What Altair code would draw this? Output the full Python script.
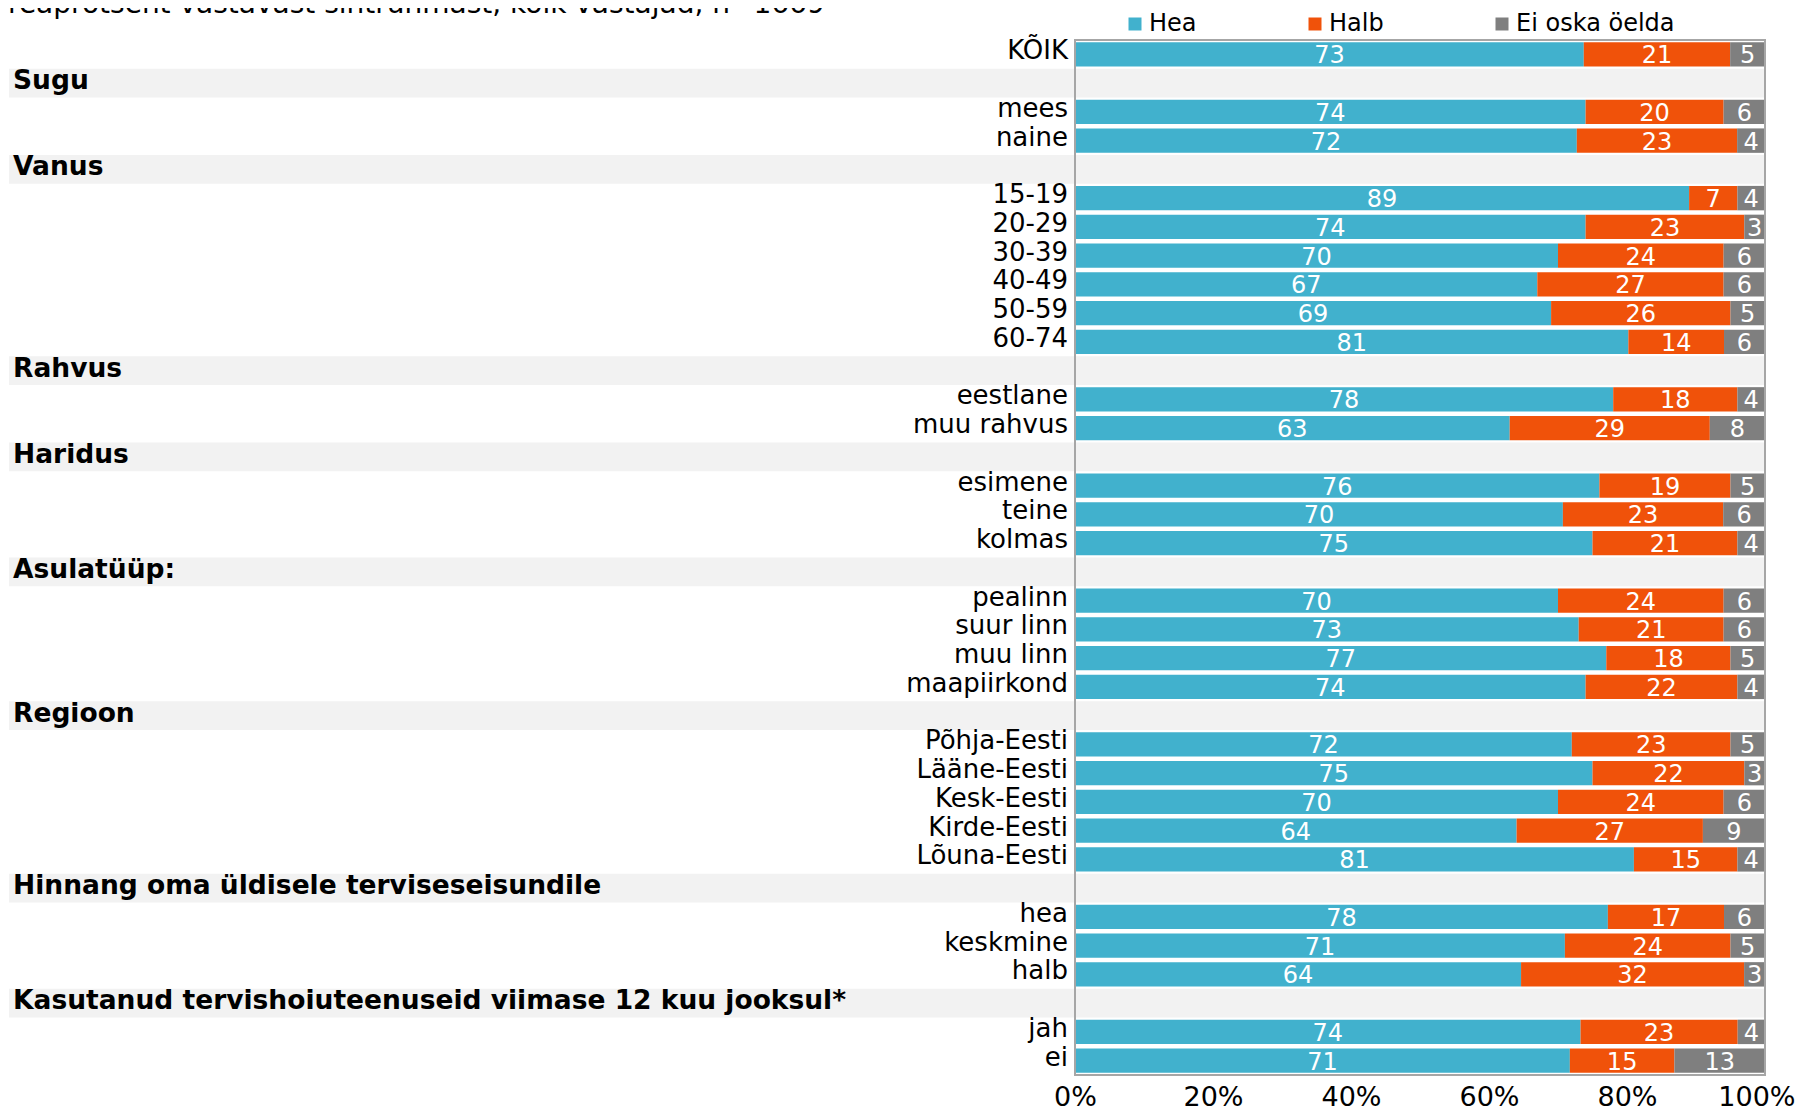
import altair as alt
import pandas as pd

title_text = "reaprotsent vastavast sihtrühmast, kõik vastajad, n=1669"
series = ["Hea", "Halb", "Ei oska öelda"]
colors = ["#41b1cd", "#f0520a", "#7f7f7f"]

row_order = [
    "KÕIK", "Sugu", "mees", "naine", "Vanus", "15-19", "20-29", "30-39", "40-49",
    "50-59", "60-74", "Rahvus", "eestlane", "muu rahvus", "Haridus", "esimene",
    "teine", "kolmas", "Asulatüüp:", "pealinn", "suur linn", "muu linn",
    "maapiirkond", "Regioon", "Põhja-Eesti", "Lääne-Eesti", "Kesk-Eesti",
    "Kirde-Eesti", "Lõuna-Eesti", "Hinnang oma üldisele terviseseisundile",
    "hea", "keskmine", "halb",
    "Kasutanud tervishoiuteenuseid viimase 12 kuu jooksul*", "jah", "ei",
]
headers = [
    "Sugu", "Vanus", "Rahvus", "Haridus", "Asulatüüp:", "Regioon",
    "Hinnang oma üldisele terviseseisundile",
    "Kasutanud tervishoiuteenuseid viimase 12 kuu jooksul*",
]
categories = [
    "KÕIK", "mees", "naine", "15-19", "20-29", "30-39", "40-49", "50-59", "60-74",
    "eestlane", "muu rahvus", "esimene", "teine", "kolmas", "pealinn", "suur linn",
    "muu linn", "maapiirkond", "Põhja-Eesti", "Lääne-Eesti", "Kesk-Eesti",
    "Kirde-Eesti", "Lõuna-Eesti", "hea", "keskmine", "halb", "jah", "ei",
]
hea = [73, 74, 72, 89, 74, 70, 67, 69, 81, 78, 63, 76, 70, 75, 70, 73, 77, 74,
       72, 75, 70, 64, 81, 78, 71, 64, 74, 71]
halb = [21, 20, 23, 7, 23, 24, 27, 26, 14, 18, 29, 19, 23, 21, 24, 21, 18, 22,
        23, 22, 24, 27, 15, 17, 24, 32, 23, 15]
eos = [5, 6, 4, 4, 3, 6, 6, 5, 6, 4, 8, 5, 6, 4, 6, 6, 5, 4,
       5, 3, 6, 9, 4, 6, 5, 3, 4, 13]
tick_values = [0, 0.2, 0.4, 0.6, 0.8, 1]

FONT = "DejaVu Sans"
W, H = 690, 1035
RIGHT_PAD = 31
n_rows = len(row_order)
domain_rows = list(range(n_rows))

recs = []
for i, cat in enumerate(categories):
    r = row_order.index(cat)
    for k, (s, vals) in enumerate(zip(series, [hea, halb, eos])):
        recs.append({"r": r, "label": cat, "series": s, "value": vals[i], "order": k})
long_df = pd.DataFrame(recs)
cat_df = pd.DataFrame({"r": [row_order.index(c) for c in categories], "label": categories})
head_df = pd.DataFrame({"r": [row_order.index(h) for h in headers], "label": headers})
title_df = pd.DataFrame({"t": [title_text]})

y_bar = alt.Y("r:O", scale=alt.Scale(domain=domain_rows, paddingInner=0.15, paddingOuter=0.075), axis=None)
y_band = alt.Y("r:O", scale=alt.Scale(domain=domain_rows, paddingInner=0, paddingOuter=0), axis=None)

bands = alt.Chart(head_df).mark_rect(color="#f2f2f2").encode(
    x=alt.value(-1066), x2=alt.value(W), y=y_band
)
head_text = alt.Chart(head_df).mark_text(
    align="left", baseline="middle", fontSize=26.5, fontWeight="bold", font=FONT, color="black", dy=-2
).encode(x=alt.value(-1062), y=y_band, text="label:N")

base = alt.Chart(long_df).transform_stack(
    stack="value", groupby=["r"], as_=["x0", "x1"], offset="normalize",
    sort=[alt.SortField("order", order="ascending")]
).transform_calculate(mid="(datum.x0 + datum.x1) / 2")

x_axis = alt.Axis(
    format="%", values=tick_values, grid=False, ticks=False, domain=False,
    labelFontSize=27, labelColor="black", labelPadding=9, labelFlush=False,
    title=None, labelFont=FONT,
    labelAlign={"condition": {"test": "datum.value === 1", "value": "right"}, "value": "center"},
    labelOffset={"condition": {"test": "datum.value === 1", "value": RIGHT_PAD - 1}, "value": 0},
)

bars = base.mark_bar().encode(
    x=alt.X("x0:Q", scale=alt.Scale(domain=[0, 1]), axis=x_axis),
    x2="x1:Q",
    y=y_bar,
    color=alt.Color("series:N", scale=alt.Scale(domain=series, range=colors),
                    legend=alt.Legend(title=None, orient="none", legendX=48, legendY=-28,
                                      direction="horizontal", symbolType="square", symbolSize=169,
                                      symbolStrokeWidth=0, labelFontSize=24, labelOffset=2,
                                      columnPadding=106, padding=0, labelColor="black",
                                      labelFont=FONT, labelLimit=300)),
)
values = base.mark_text(color="white", fontSize=24, font=FONT, baseline="middle", dy=2).encode(
    x="mid:Q", y=y_bar, text="value:Q"
)
cat_text = alt.Chart(cat_df).mark_text(
    align="right", baseline="middle", fontSize=26, font=FONT, color="black", dy=-3
).encode(x=alt.value(-7), y=y_bar, text="label:N")

title = alt.Chart(title_df).mark_text(
    align="left", baseline="alphabetic", fontSize=28, font=FONT, color="black"
).encode(x=alt.value(-1067), y=alt.value(-27), text="t:N")

frame = alt.Chart(title_df).mark_rect(
    fillOpacity=0, stroke="#a6a6a6", strokeWidth=2
).encode(x=alt.value(0), x2=alt.value(W), y=alt.value(0), y2=alt.value(H))

chart = alt.layer(bands, head_text, bars, values, cat_text, title, frame).resolve_scale(
    y="independent"
).properties(
    width=W, height=H,
    autosize=alt.AutoSizeParams(type="none"),
    padding={"left": 1067, "top": 32, "right": RIGHT_PAD, "bottom": 35},
).configure_view(stroke=None).configure(font=FONT)

chart.save("out.html", embed_options={"renderer": "svg", "actions": False})
